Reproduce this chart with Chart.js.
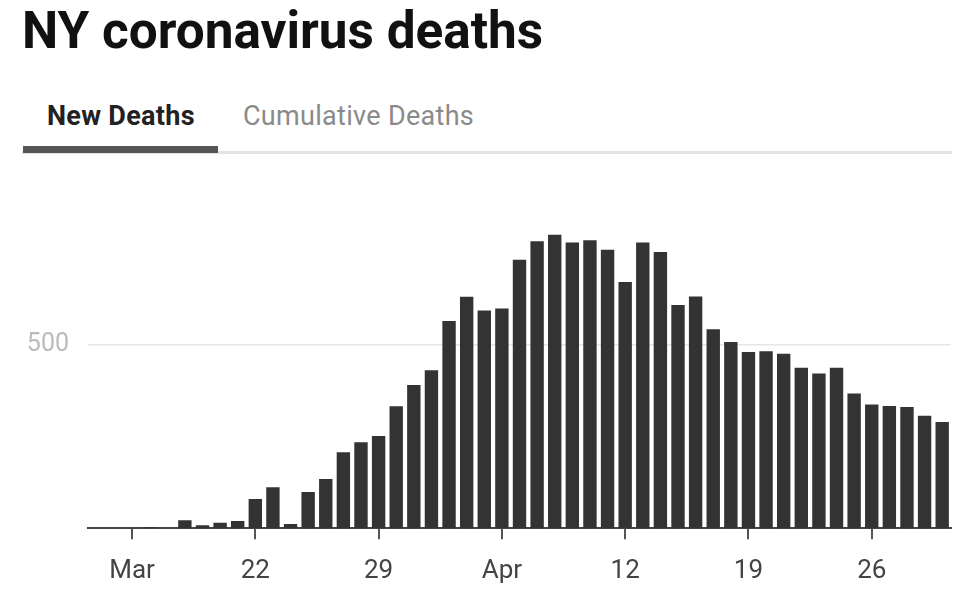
<!DOCTYPE html>
<html>
<head>
<meta charset="utf-8">
<script src="https://cdn.jsdelivr.net/npm/chart.js@4"></script>
<style>
  html, body { margin: 0; padding: 0; background: #fff; }
  body { width: 974px; height: 598px; position: relative; overflow: hidden; font-family: Roboto, "Noto Sans", sans-serif; }
  .title { position: absolute; left: 22px; top: 4.5px; font-size: 51.3px; line-height: 51.3px; font-weight: 700; color: #111; white-space: nowrap; }
  .tab { position: absolute; top: 102.5px; font-size: 27px; line-height: 27px; letter-spacing: 0.3px; white-space: nowrap; }
  .tab.active { left: 47px; font-weight: 700; color: #222; }
  .tab.idle { left: 243px; color: #8a8a8a; }
  .divider { position: absolute; left: 22px; top: 151px; width: 930px; height: 3px; background: #e2e2e2; }
  .underline { position: absolute; left: 23px; top: 146px; width: 195px; height: 7px; background: #555; }
  #wrap { position: absolute; left: 0; top: 160px; width: 974px; height: 438px; }
</style>
</head>
<body>
<div class="title">NY coronavirus deaths</div>
<div class="tab active">New Deaths</div>
<div class="tab idle">Cumulative Deaths</div>
<div class="divider"></div>
<div class="underline"></div>
<div id="wrap"><canvas id="chart"></canvas></div>
<script>
// Mar 13 .. Apr 30
const days = [
  "Mar 13", "Mar 14", "Mar 15", "Mar 16", "Mar 17", "Mar 18", "Mar 19", "Mar 20", "Mar 21",
  "Mar 22", "Mar 23", "Mar 24", "Mar 25", "Mar 26", "Mar 27", "Mar 28", "Mar 29", "Mar 30", "Mar 31",
  "Apr 1", "Apr 2", "Apr 3", "Apr 4", "Apr 5", "Apr 6", "Apr 7", "Apr 8", "Apr 9", "Apr 10",
  "Apr 11", "Apr 12", "Apr 13", "Apr 14", "Apr 15", "Apr 16", "Apr 17", "Apr 18", "Apr 19", "Apr 20",
  "Apr 21", "Apr 22", "Apr 23", "Apr 24", "Apr 25", "Apr 26", "Apr 27", "Apr 28", "Apr 29", "Apr 30"
];

const newDeaths = [
  0, 0, 0, 3, 0, 22, 8, 15, 20,
  80, 112, 12, 99, 134, 207, 234, 251, 332, 390,
  430, 564, 630, 593, 598, 731, 781, 799, 778, 784,
  758, 670, 778, 752, 608, 631, 542, 507, 480, 482,
  475, 437, 421, 437, 367, 337, 333, 330, 306, 289
];

// which days get a tick label, and what it says
const tickLabels = {
  "Mar 15": "Mar", "Mar 22": "22", "Mar 29": "29", "Apr 5": "Apr",
  "Apr 12": "12", "Apr 19": "19", "Apr 26": "26"
};

const yTicks = [500];

const ctx = document.getElementById("chart");

new Chart(ctx, {
  type: "bar",
  data: {
    labels: days,
    datasets: [{
      data: newDeaths,
      backgroundColor: "#333333",
      borderWidth: 0,
      barPercentage: 0.76,
      categoryPercentage: 1.0,
    }],
  },
  options: {
    responsive: true,
    maintainAspectRatio: false,
    animation: false,
    layout: { padding: { top: 37.6, right: 23, bottom: 0, left: 0 } },
    plugins: {
      legend: { display: false },
      tooltip: { enabled: false },
    },
    scales: {
      x: {
        offset: true,
        afterFit: (scale) => { scale.height = 69.7; },
        border: { display: true, color: "#444", width: 2 },
        grid: {
          offset: false,
          drawOnChartArea: false,
          drawTicks: true,
          tickLength: 11,
          lineWidth: 2,
          color: (c) => tickLabels[days[c.index]] ? "#555" : "rgba(0,0,0,0)",
        },
        ticks: {
          autoSkip: false,
          maxRotation: 0,
          padding: 17,
          color: "#444",
          font: { family: "Roboto", size: 26 },
          callback: (val, i) => tickLabels[days[i]] || "",
        },
      },
      y: {
        min: 0,
        max: 900,
        afterFit: (scale) => { scale.width = 88; },
        afterBuildTicks: (scale) => { scale.ticks = yTicks.map((v) => ({ value: v })); },
        border: { display: false },
        grid: { drawTicks: false, color: "#e6e6e6", lineWidth: 1.5 },
        ticks: {
          padding: 19,
          color: "#bbbbbb",
          font: { family: "Roboto", size: 25 },
        },
      },
    },
  },
});
</script>
</body>
</html>
